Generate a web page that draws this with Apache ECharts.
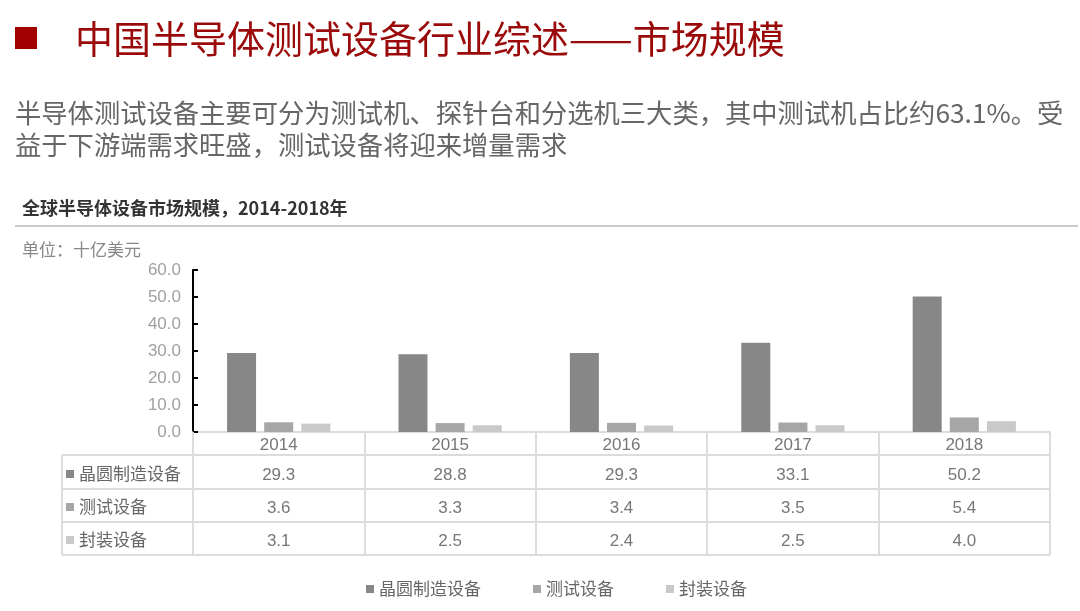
<!DOCTYPE html>
<html><head><meta charset="utf-8">
<script src="https://cdn.jsdelivr.net/npm/echarts@6/dist/echarts.min.js"></script>
<style>html,body{margin:0;padding:0;background:#fff}#c{width:1080px;height:611px}</style>
</head><body><div id="c"></div>
<script>
const years = ['2014','2015','2016','2017','2018'];
const seriesNames = ['晶圆制造设备','测试设备','封装设备'];
const wafer = [29.3, 28.8, 29.3, 33.1, 50.2];
const testEq = [3.6, 3.3, 3.4, 3.5, 5.4];
const packEq = [3.1, 2.5, 2.4, 2.5, 4.0];
const yTicks = [0, 10, 20, 30, 40, 50, 60];
const mainTitle = '中国半导体测试设备行业综述——市场规模';
const subLine1 = '半导体测试设备主要可分为测试机、探针台和分选机三大类，其中测试机占比约63.1%。受';
const subLine2 = '益于下游端需求旺盛，测试设备将迎来增量需求';
const chartTitle = '全球半导体设备市场规模，2014-2018年';
const unitText = '单位：十亿美元';

const colors = ['#878787', '#a6a6a6', '#c9c9c9'];
const FF = "'Liberation Sans','Noto Sans CJK SC',sans-serif";
const CJK = "'Noto Sans CJK SC','Liberation Sans',sans-serif";
const values = [wafer, testEq, packEq];
const grid = {left: 193, right: 30, top: 270, bottom: 179};
const tableColor = '#dcdcdc';

const chart = echarts.init(document.getElementById('c'), null, {renderer: 'canvas'});
const option = {
  animation: false,
  backgroundColor: '#fff',
  textStyle: {fontFamily: FF},
  color: colors,
  grid: grid,
  legend: [
    {
      data: seriesNames, orient: 'horizontal', left: 361, top: 574,
      icon: 'rect', itemWidth: 8, itemHeight: 8, itemGap: 52,
      textStyle: {fontFamily: CJK, fontSize: 17, color: '#666', lineHeight: 20},
      selectedMode: false
    },
    {
      data: seriesNames, orient: 'vertical', left: 61, top: 459,
      icon: 'rect', itemWidth: 8, itemHeight: 8, itemGap: 13,
      textStyle: {fontFamily: CJK, fontSize: 17, color: '#666', lineHeight: 20},
      selectedMode: false
    }
  ],
  xAxis: {
    type: 'category', data: years,
    axisLine: {show: true, lineStyle: {color: tableColor, width: 2}},
    axisTick: {show: true, interval: 0, length: 123, lineStyle: {color: tableColor, width: 2}},
    axisLabel: {
      interval: 0, margin: 1,
      formatter: function (v, i) {
        return '{y|' + v + '}\n{v|' + wafer[i].toFixed(1) + '}\n{v|' + testEq[i].toFixed(1) + '}\n{v|' + packEq[i].toFixed(1) + '}';
      },
      rich: {
        y: {fontSize: 17, color: '#777', lineHeight: 24, fontFamily: FF},
        v: {fontSize: 17, color: '#777', lineHeight: 33, fontFamily: FF, padding: [3, 0, 0, 0]}
      }
    }
  },
  yAxis: {
    type: 'value', min: yTicks[0], max: yTicks[yTicks.length - 1], interval: 10,
    axisLine: {show: true, lineStyle: {color: '#000', width: 2}},
    axisTick: {show: true, inside: true, length: 5, lineStyle: {color: '#000', width: 2}},
    splitLine: {show: false},
    axisLabel: {margin: 12, fontSize: 17, color: '#a0a0a0', formatter: v => v.toFixed(1)}
  },
  series: seriesNames.map((n, k) => ({
    name: n, type: 'bar', data: values[k], barWidth: 29, barGap: '28%',
    itemStyle: {color: colors[k]}
  })),
  graphic: [
    {type: 'rect', shape: {x: 15, y: 27, width: 22, height: 22}, style: {fill: '#a00000'}},
    {type: 'text', x: 75, y: 39, style: {text: mainTitle, font: '38px ' + CJK, fill: '#9b0a0a', verticalAlign: 'middle'}},
    {type: 'text', x: 15, y: 113, style: {text: subLine1, font: '26.3px ' + CJK, fill: '#666', verticalAlign: 'middle'}},
    {type: 'text', x: 15, y: 145, style: {text: subLine2, font: '26.3px ' + CJK, fill: '#666', verticalAlign: 'middle'}},
    {type: 'text', x: 22, y: 208, style: {text: chartTitle, font: 'bold 18px ' + CJK, fill: '#333', verticalAlign: 'middle'}},
    {type: 'line', shape: {x1: 15, y1: 226, x2: 1078, y2: 226}, style: {stroke: '#bbb', lineWidth: 1.5}},
    {type: 'text', x: 22, y: 250, style: {text: unitText, font: '17px ' + CJK, fill: '#888', verticalAlign: 'middle'}},
    {type: 'line', shape: {x1: 62, y1: 455, x2: 1050, y2: 455}, style: {stroke: tableColor, lineWidth: 2}},
    {type: 'line', shape: {x1: 62, y1: 489, x2: 1050, y2: 489}, style: {stroke: tableColor, lineWidth: 2}},
    {type: 'line', shape: {x1: 62, y1: 522, x2: 1050, y2: 522}, style: {stroke: tableColor, lineWidth: 2}},
    {type: 'line', shape: {x1: 62, y1: 555, x2: 1050, y2: 555}, style: {stroke: tableColor, lineWidth: 2}},
    {type: 'line', shape: {x1: 62, y1: 455, x2: 62, y2: 555}, style: {stroke: tableColor, lineWidth: 2}}
  ]
};
chart.setOption(option);
</script></body></html>
